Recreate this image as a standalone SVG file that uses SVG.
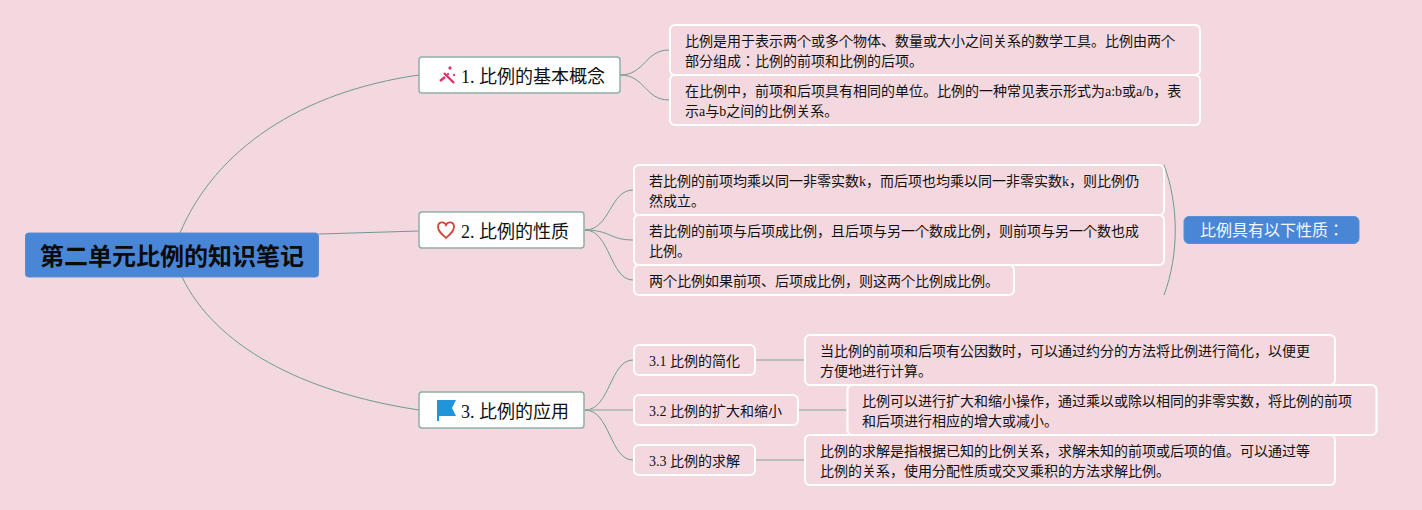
<svg xmlns="http://www.w3.org/2000/svg" width="1422" height="510" viewBox="0 0 1422 510">
<style>
text{font-family:"Liberation Serif","Noto Sans CJK JP",sans-serif;fill:#111}
.c{fill:none;stroke:#6f9a90;stroke-width:1}
.s{fill:none;stroke:#a9b5b0;stroke-width:1.500}
.b{fill:#fff;stroke:#8fb0a8;stroke-width:1.500}
.w{fill:#f3d8e0;stroke:#fff;stroke-width:2}
.d{font-size:14px}
.h{font-size:18px}
</style>
<rect width="1422" height="510" fill="#f3d8e0"/>
<g id="connectors">
<path class="c" d="M180 233C215 150 300 92 419 75"/>
<path class="c" d="M319 234L419 231"/>
<path class="c" d="M182 277C215 345 300 392 419 410"/>
<path class="c" d="M620 75C645 75 645 50 669 50"/>
<path class="c" d="M620 75C645 75 645 100 669 100"/>
<path class="c" d="M585 230C610 230 610 190 633 190"/>
<path class="c" d="M585 230C610 230 610 240 633 240"/>
<path class="c" d="M585 230C610 230 610 280 633 280"/>
<path class="c" d="M585 410C610 410 610 360 633 360"/>
<path class="s" d="M585 410H633"/>
<path class="c" d="M585 410C610 410 610 460 633 460"/>
<path class="s" d="M756 360H804"/>
<path class="s" d="M798 410H847"/>
<path class="s" d="M756 460H804"/>
<path class="c" d="M1164 165C1179 205 1179 255 1164 295"/>
</g>
<g id="root"><rect x="25.500" y="233" width="293" height="44" rx="3" fill="#4a86d6" stroke="#5b8fd0"/><text x="172" y="265" font-size="24" font-weight="700" text-anchor="middle" style="fill:#0b0b0b">第二单元比例的知识笔记</text></g>
<g id="n1"><rect class="b" x="419" y="57" width="201" height="36" rx="3"/>
<g stroke="#e0306f" fill="#e0306f"><path d="M444 73L454 83" stroke-width="2.400"/><path d="M440 81L445 77" stroke-width="2.400"/><circle cx="450" cy="68" r="1.200"/><circle cx="448" cy="74" r="0.800"/><circle cx="454" cy="75" r="0.800"/></g>
<text class="h" x="461" y="83">1. 比例的基本概念</text></g>
<g id="n1a"><rect class="w" x="670" y="25" width="530" height="50" rx="5"/><text class="d" x="685" y="46">比例是用于表示两个或多个物体、数量或大小之间关系的数学工具。比例由两个</text><text class="d" x="685" y="66">部分组成：比例的前项和比例的后项。</text></g>
<g id="n1b"><rect class="w" x="670" y="75" width="530" height="50" rx="5"/><text class="d" x="685" y="96">在比例中，前项和后项具有相同的单位。比例的一种常见表示形式为a:b或a/b，表</text><text class="d" x="685" y="116">示a与b之间的比例关系。</text></g>
<g id="n2"><rect class="b" x="419" y="212" width="165" height="36" rx="3"/>
<path d="M446 238C441.500 234 438 231 438 227C438 221.500 444 221 446 225C448 221 454 221.500 454 227C454 231 450.500 234 446 238Z" fill="#fff" stroke="#d0483c" stroke-width="1.800"/>
<text class="h" x="461" y="238">2. 比例的性质</text></g>
<g id="n2a"><rect class="w" x="634" y="165" width="530" height="50" rx="5"/><text class="d" x="649" y="186">若比例的前项均乘以同一非零实数k，而后项也均乘以同一非零实数k，则比例仍</text><text class="d" x="649" y="206">然成立。</text></g>
<g id="n2b"><rect class="w" x="634" y="215" width="530" height="50" rx="5"/><text class="d" x="649" y="236">若比例的前项与后项成比例，且后项与另一个数成比例，则前项与另一个数也成</text><text class="d" x="649" y="256">比例。</text></g>
<g id="n2c"><rect class="w" x="634" y="265" width="380" height="30" rx="5"/><text class="d" x="649" y="286">两个比例如果前项、后项成比例，则这两个比例成比例。</text></g>
<g id="summary"><rect x="1184" y="216.500" width="175" height="27" rx="5" fill="#4a86d6" stroke="#5b8fd0"/><text x="1200" y="236" font-size="16" style="fill:#f4f6fb">比例具有以下性质：</text></g>
<g id="n3"><rect class="b" x="419" y="392" width="165" height="36" rx="3"/>
<path d="M437 400H456L452 408L456 416H439V421L437 421Z" fill="#1f96dc"/>
<text class="h" x="461" y="418">3. 比例的应用</text></g>
<g id="n31"><rect class="w" x="634" y="345" width="121" height="30" rx="5"/><text class="d" x="649" y="366">3.1 比例的简化</text></g>
<g id="n32"><rect class="w" x="634" y="395" width="164" height="30" rx="5"/><text class="d" x="649" y="416">3.2 比例的扩大和缩小</text></g>
<g id="n33"><rect class="w" x="634" y="445" width="121" height="30" rx="5"/><text class="d" x="649" y="466">3.3 比例的求解</text></g>
<g id="n31a"><rect class="w" x="805" y="335" width="530" height="50" rx="5"/><text class="d" x="820" y="356">当比例的前项和后项有公因数时，可以通过约分的方法将比例进行简化，以便更</text><text class="d" x="820" y="376">方便地进行计算。</text></g>
<g id="n32a"><rect class="w" x="847.500" y="385" width="529" height="50" rx="5"/><text class="d" x="862" y="406">比例可以进行扩大和缩小操作，通过乘以或除以相同的非零实数，将比例的前项</text><text class="d" x="862" y="426">和后项进行相应的增大或减小。</text></g>
<g id="n33a"><rect class="w" x="805" y="435" width="530" height="50" rx="5"/><text class="d" x="820" y="456">比例的求解是指根据已知的比例关系，求解未知的前项或后项的值。可以通过等</text><text class="d" x="820" y="476">比例的关系，使用分配性质或交叉乘积的方法求解比例。</text></g>
</svg>
